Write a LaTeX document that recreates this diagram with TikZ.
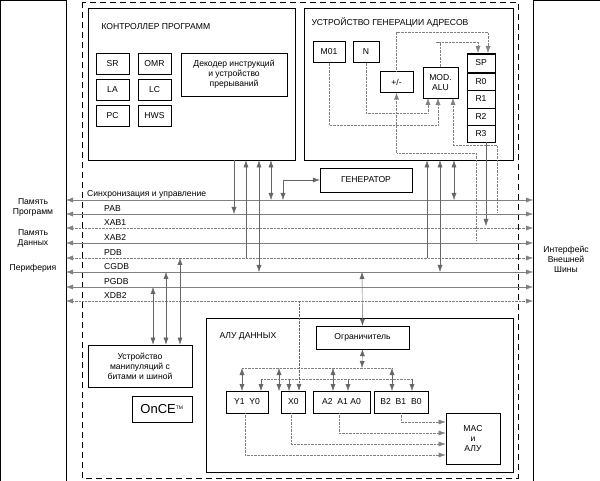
\documentclass[tikz,border=0pt]{standalone}
\usepackage{fontspec}
\setmainfont{Liberation Sans}
\usetikzlibrary{calc,arrows.meta}
\tikzset{
  >={Latex[length=7pt,width=5pt]},
  blk/.style={draw,thick,inner sep=0pt,align=center},
  reg/.style={draw,thin,inner sep=0pt,minimum height=21,align=center},
  bus/.style={gray,thin,->},
  tap/.style={gray!80!black,thin,->},
  tapb/.style={gray!80!black,thin,<->},
  wire/.style={gray,thin,densely dotted},
}
\begin{document}
\begin{tikzpicture}[x=1pt,y=-1pt,font=\fontsize{8.6}{10}\selectfont]
  \useasboundingbox (0,0) rectangle (600,481);
  % outer blocks
  \draw[thick] (0,0) rectangle (66,481);
  \draw[thick] (533,0) rectangle (600,481);
  \node[align=center] (mem) at (33,207) {Память\\Программ};
  \node[align=center] (dmem) at (33,238) {Память\\Данных};
  \node (per) at (33,268) {Периферия};
  \node[align=center] (ebi) at (566,259) {Интерфейс\\Внешней\\Шины};
  \draw[thick,dash pattern=on 6pt off 4pt] (82,2) rectangle (518,478);
  % program controller
  \node[blk,minimum width=207,minimum height=152] (pc) at (191.5,84) {};
  \node[anchor=west] (pct) at (98,27) {КОНТРОЛЛЕР ПРОГРАММ};
  \foreach \t/\x/\y in {SR/112.5/63.5,OMR/154.5/63.5,LA/112.5/89.5,LC/154.5/89.5,PC/112.5/115.5,HWS/154.5/115.5}
    \node[reg,minimum width=33] (\t) at (\x,\y) {\t};
  \node[blk,thin,minimum width=106,minimum height=43] (dec) at (234,74.5)
    {Декодер инструкций\\и устройство\\прерываний};
  % address generation unit
  \node[blk,minimum width=209,minimum height=152] (agu) at (408.5,84) {};
  \node[anchor=west] (agut) at (308,22) {УСТРОЙСТВО ГЕНЕРАЦИИ АДРЕСОВ};
  \node[reg,minimum width=32] (m01) at (329,52) {M01};
  \node[reg,minimum width=26] (n) at (366,52) {N};
  \node[reg,minimum width=33] (pm) at (396.5,82) {+/-};
  \node[blk,thin,minimum width=35,minimum height=31] (mod) at (440.5,82.5) {MOD.\\ALU};
  \foreach \t/\y in {SP/63,R0/81.5,R1/99,R2/116.5,R3/133.5}
    \node[reg,minimum width=28,minimum height=17.5] (\t) at (481,\y) {\t};
  \draw[thick] (467,53) rectangle (495,142);
  \draw[wire,->] (pm.north) |- (410,32) -| (488,53);
  \draw[wire,->] (mod.north) |- (436,42) -| (478,53);
  \draw[wire,->] (m01.south) |- (438,125) -- (438,98);
  \draw[wire,->] (n.south) |- (428,113) -- (428,98);
  \draw[wire,->] (476,240) |- (396.5,153) -- (pm.south);
  \draw[wire,->] (497,212) |- (453,145) -- (453,98);
  \draw[tap] (486,142) -- (486,226);
  \node[blk,thin,minimum width=92,minimum height=24] (gen) at (366,180) {ГЕНЕРАТОР};
  % buses
  \foreach \b/\y/\s in {sync/200/solid,pab/214/solid,xab1/228/densely dotted,xab2/243/solid,pdb/258/densely dotted,cgdb/272/solid,pgdb/287/solid,xdb2/301/densely dotted}{
    \coordinate (\b) at (300,\y);
    \draw[bus,\s] (82,\y) -- (66,\y);
    \draw[bus,\s] (82,\y) -- (533,\y);
  }
  \node[anchor=south west,inner sep=1pt] (synct) at (86,199) {Синхронизация и управление};
  \foreach \t/\y in {PAB/213,XAB1/227,XAB2/242,PDB/257,CGDB/271,PGDB/286,XDB2/300}
    \node[anchor=south west,inner sep=1pt] (l\t) at (103,\y) {\t};
  % taps to controller and AGU
  \draw[tap] (pc.south -| 234,0) -- (234,214);
  \draw[tap] (246,258) -- (pc.south -| 246,0);
  \draw[tapb] (pc.south -| 259,0) -- (259,272);
  \draw[tapb] (pc.south -| 271,0) -- (271,200);
  \draw[tapb] (283,200) |- (gen.west);
  \draw[tap] (427,258) -- (agu.south -| 427,0);
  \draw[tapb] (agu.south -| 440,0) -- (440,272);
  \draw[tapb] (agu.south -| 454,0) -- (454,200);
  % bit manipulation, OnCE
  \node[blk,minimum width=104,minimum height=42] (bmu) at (140,366) {Устройство\\манипуляций с\\битами и шиной};
  \node[blk,minimum width=60,minimum height=26] (once) at (162,409) {\fontsize{13}{13}\selectfont OnCE\textsuperscript{\tiny TM}};
  \draw[tapb] (153,287) -- (bmu.north -| 153,0);
  \draw[tapb] (166,272) -- (bmu.north -| 166,0);
  \draw[tapb] (180,258) -- (bmu.north -| 180,0);
  % data ALU
  \node[blk,minimum width=307,minimum height=154] (alu) at (359.5,395) {};
  \node[anchor=west] (alut) at (216,336) {АЛУ ДАННЫХ};
  \node[blk,thin,minimum width=93,minimum height=23] (lim) at (362.5,337.5) {Ограничитель};
  \draw[tapb] (362,272) -- (lim.north);
  \draw[tapb] (lim.south) -- (362,368);
  \node[reg,minimum width=42,minimum height=22] (y) at (247,402) {Y1\ \ Y0};
  \node[reg,minimum width=24,minimum height=22] (x) at (293.5,402) {X0};
  \node[reg,minimum width=57,minimum height=22] (a) at (341.5,402) {A2\ \ A1 A0};
  \node[reg,minimum width=54,minimum height=22] (b) at (401,402) {B2\ \ B1\ \ B0};
  \node[blk,minimum width=54,minimum height=51] (mac) at (473,439) {MAC\\и\\АЛУ};
  \draw[wire] (242,368) -- (392,368);
  \draw[wire] (261,379) -- (412,379);
  \foreach \x in {242,279,333,392} \draw[tapb] (\x,368) -- (\x,391);
  \foreach \x in {261,289,348,412} \draw[tap] (\x,379) -- (\x,391);
  \draw[tap,densely dotted] (299,301) -- (x.north -| 299,0);
  \draw[wire,->] (b.south -| 401,0) |- (mac.west |- 0,422);
  \draw[wire,->] (a.south -| 339,0) |- (mac.west |- 0,433);
  \draw[wire,->] (x.south -| 291,0) |- (mac.west |- 0,444);
  \draw[wire,->] (y.south -| 245,0) |- (mac.west |- 0,455);
\end{tikzpicture}
\end{document}
